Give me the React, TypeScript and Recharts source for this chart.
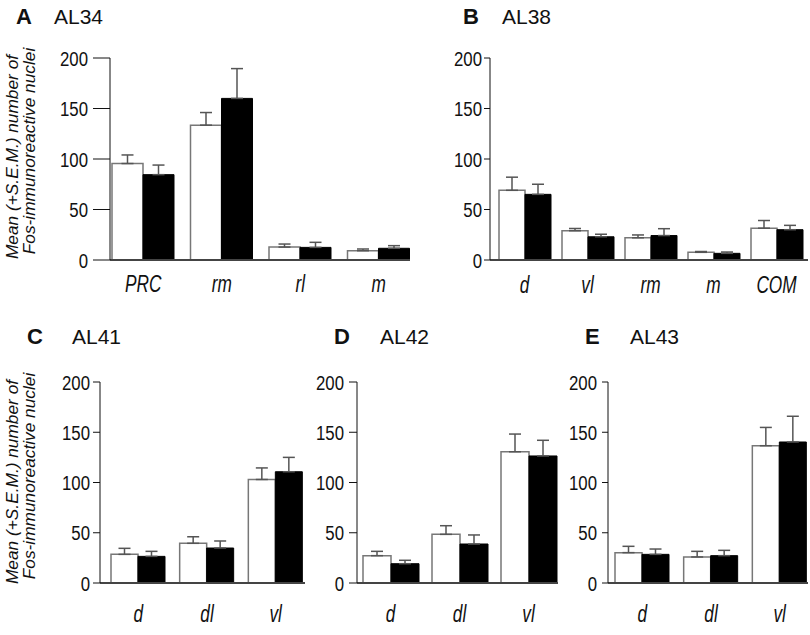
import { BarChart, Bar, XAxis, YAxis, ErrorBar } from "recharts";

const FONT = '"Liberation Sans", Arial, sans-serif';

// A – AL34
const catsA = ["PRC", "rm", "rl", "m"];
const openA = [95.5, 133.5, 12.8, 9.2];
const openErrA = [8.5, 12.5, 3, 1.7];
const filledA = [84.5, 160, 12.5, 11.6];
const filledErrA = [9.5, 29.5, 5, 2.6];

// B – AL38
const catsB = ["d", "vl", "rm", "m", "COM"];
const openB = [69, 29, 22, 7.6, 31.5];
const openErrB = [13, 2.2, 2.8, 0.8, 7.6];
const filledB = [65, 23, 24.2, 6.6, 30];
const filledErrB = [10, 2.5, 6.8, 1.3, 4.3];

// C – AL41
const catsC = ["d", "dl", "vl"];
const openC = [28.5, 39.5, 103];
const openErrC = [6, 6.5, 11.5];
const filledC = [26.5, 34.8, 110.7];
const filledErrC = [5, 7, 14.3];

// D – AL42
const catsD = ["d", "dl", "vl"];
const openD = [27.2, 48.4, 130.6];
const openErrD = [4.3, 8.6, 17.6];
const filledD = [19.2, 38.8, 126.4];
const filledErrD = [3.4, 9, 15.6];

// E – AL43
const catsE = ["d", "dl", "vl"];
const openE = [30.2, 25.9, 136.6];
const openErrE = [6.3, 5.6, 18.2];
const filledE = [28.5, 27.2, 140.3];
const filledErrE = [5.3, 5.3, 25.6];

const yTicks = [0, 50, 100, 150, 200];

function YTick(props: any) {
  const { x, y, payload } = props;
  return (
    <g transform={`translate(${x},${y})`}>
      <text
        textAnchor="end"
        dy="0.36em"
        transform="scale(0.8,1)"
        fontSize={21}
        fontFamily={FONT}
        fill="#111"
      >
        {payload.value}
      </text>
    </g>
  );
}

function makeXTick(offset: number) {
  return function XTick(props: any) {
    const { x, y, payload } = props;
    return (
      <g transform={`translate(${x},${y + offset})`}>
        <text
          textAnchor="middle"
          transform="scale(0.75,1)"
          fontSize={23}
          fontStyle="italic"
          fontFamily={FONT}
          fill="#111"
        >
          {payload.value}
        </text>
      </g>
    );
  };
}

interface PanelProps {
  cats: string[];
  open: number[];
  openErr: number[];
  filled: number[];
  filledErr: number[];
  left: number;
  top: number;
  width: number;
  height: number;
  plotLeft: number;
  plotRight: number;
  plotTop: number;
  plotBottom: number;
  padL: number;
  padR: number;
  gap: number;
  tickSize: number;
  tickMargin: number;
  labelOffset: number;
}

function Panel(p: PanelProps) {
  const data = p.cats.map((c, i) => ({
    cat: c,
    open: p.open[i],
    openErr: p.openErr[i],
    filled: p.filled[i],
    filledErr: p.filledErr[i],
  }));
  const xAxisH = 30;
  return (
    <div style={{ position: "absolute", left: p.left, top: p.top, width: p.width, height: p.height }}>
      <BarChart
        width={p.width}
        height={p.height}
        data={data}
        barCategoryGap={p.gap}
        barGap={0}
        margin={{
          top: p.plotTop,
          left: 0,
          right: p.width - p.plotRight,
          bottom: p.height - p.plotBottom - xAxisH,
        }}
      >
        <XAxis
          dataKey="cat"
          height={xAxisH}
          padding={{ left: p.padL, right: p.padR }}
          tickLine={false}
          tickSize={0}
          tickMargin={0}
          axisLine={{ stroke: "#444", strokeWidth: 2 }}
          tick={makeXTick(p.labelOffset)}
          interval={0}
        />
        <YAxis
          width={p.plotLeft}
          domain={[0, 200]}
          ticks={yTicks}
          tickSize={p.tickSize}
          tickMargin={p.tickMargin}
          axisLine={{ stroke: "#111", strokeWidth: 1 }}
          tickLine={{ stroke: "#111", strokeWidth: 1 }}
          tick={<YTick />}
          interval={0}
        />
        <Bar dataKey="open" fill="#fff" stroke="#777" strokeWidth={1.5} isAnimationActive={false}>
          <ErrorBar
            dataKey={(d: any) => [0, d.openErr]}
            direction="y"
            width={6}
            stroke="#555"
            strokeWidth={1.5}
          />
        </Bar>
        <Bar dataKey="filled" fill="#000" stroke="#000" strokeWidth={1} isAnimationActive={false}>
          <ErrorBar
            dataKey={(d: any) => [0, d.filledErr]}
            direction="y"
            width={6}
            stroke="#555"
            strokeWidth={1.5}
          />
        </Bar>
      </BarChart>
    </div>
  );
}

// rotated two-line axis title; each line has its own centre
function YLabel({ c1, c2 }: { c1: number; c2: number }) {
  return (
    <g fontFamily={FONT} fontSize={17.3} fontStyle="italic" fill="#111" textAnchor="middle">
      <text transform={`translate(18, ${c1}) rotate(-90)`}>Mean (+S.E.M.) number of</text>
      <text transform={`translate(34.5, ${c2}) rotate(-90)`}>Fos-immunoreactive nuclei</text>
    </g>
  );
}

function Title({ x, lx, y, letter, name }: { x: number; lx: number; y: number; letter: string; name: string }) {
  return (
    <g fontFamily={FONT} fill="#111">
      <text x={x} y={y} fontSize={22} fontWeight="bold">
        {letter}
      </text>
      <text x={lx} y={y} fontSize={21}>
        {name}
      </text>
    </g>
  );
}

export default function App() {
  return (
    <div style={{ position: "absolute", left: 0, top: 0, width: 810, height: 635, background: "#fff" }}>
      <Panel
        cats={catsA} open={openA} openErr={openErrA} filled={filledA} filledErr={filledErrA}
        left={0} top={0} width={420} height={300}
        plotLeft={110} plotRight={410} plotTop={58} plotBottom={260}
        padL={-6} padR={-8} gap={8} tickSize={17} tickMargin={5} labelOffset={32}
      />
      <Panel
        cats={catsB} open={openB} openErr={openErrB} filled={filledB} filledErr={filledErrB}
        left={400} top={0} width={410} height={300}
        plotLeft={90} plotRight={408} plotTop={58} plotBottom={260}
        padL={3} padR={0} gap={6} tickSize={6} tickMargin={2} labelOffset={33}
      />
      <Panel
        cats={catsC} open={openC} openErr={openErrC} filled={filledC} filledErr={filledErrC}
        left={0} top={320} width={320} height={315}
        plotLeft={100} plotRight={305} plotTop={62} plotBottom={263}
        padL={4} padR={-5} gap={7} tickSize={7} tickMargin={3} labelOffset={39}
      />
      <Panel
        cats={catsD} open={openD} openErr={openErrD} filled={filledD} filledErr={filledErrD}
        left={290} top={320} width={280} height={315}
        plotLeft={67} plotRight={268} plotTop={62} plotBottom={263}
        padL={-1} padR={-5} gap={7} tickSize={8} tickMargin={5} labelOffset={39}
      />
      <Panel
        cats={catsE} open={openE} openErr={openErrE} filled={filledE} filledErr={filledErrE}
        left={540} top={320} width={270} height={315}
        plotLeft={68} plotRight={268} plotTop={62} plotBottom={263}
        padL={0} padR={-6} gap={7} tickSize={6} tickMargin={5} labelOffset={39}
      />
      <svg
        width={810}
        height={635}
        style={{ position: "absolute", left: 0, top: 0, pointerEvents: "none" }}
      >
        <Title x={16} lx={54} y={24} letter="A" name="AL34" />
        <Title x={463} lx={502} y={24} letter="B" name="AL38" />
        <Title x={27} lx={72} y={344} letter="C" name="AL41" />
        <Title x={334} lx={380} y={344} letter="D" name="AL42" />
        <Title x={585} lx={630} y={344} letter="E" name="AL43" />
        <YLabel c1={157} c2={151} />
        <YLabel c1={482} c2={476} />
      </svg>
    </div>
  );
}
